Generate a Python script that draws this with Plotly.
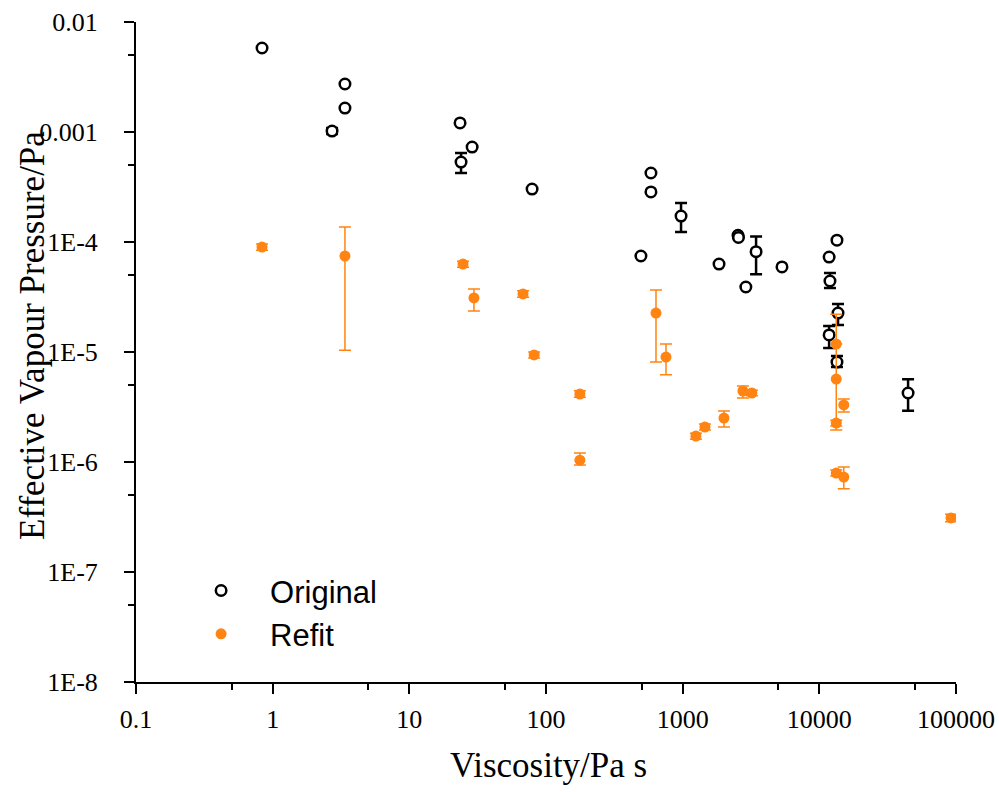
import plotly.graph_objects as go

# ---- Original (black open circles) ----
orig_x = [0.836, 3.38, 3.38, 2.72, 23.5, 28.8, 23.9, 79.1, 586, 586, 973, 495,
          2540, 2560, 1845, 2900, 3445, 5330, 13460, 11790, 11960, 13700, 11790,
          13460, 44600]
orig_y = [5.8e-3, 2.73e-3, 1.65e-3, 1.02e-3, 1.21e-3, 7.3e-4, 5.33e-4, 3.03e-4,
          4.24e-4, 2.85e-4, 1.72e-4, 7.46e-5, 1.15e-4, 1.10e-4, 6.3e-5, 3.9e-5,
          8.17e-5, 5.93e-5, 1.04e-4, 7.3e-5, 4.42e-5, 2.26e-5, 1.43e-5, 8.1e-6,
          4.24e-6]
orig_hi = [None, None, None, 1.09e-3, None, None, 6.44e-4, None, None, None,
           2.26e-4, None, None, None, None, None, 1.12e-4, None, None, None,
           5.23e-5, 2.73e-5, 1.72e-5, 9.2e-6, 5.65e-6]
orig_lo = [None, None, None, 0.96e-3, None, None, 4.24e-4, None, None, None,
           1.23e-4, None, None, None, None, None, 5.08e-5, None, None, None,
           3.82e-5, 1.76e-5, 1.09e-5, 7.3e-6, 2.93e-6]

# ---- Refit (orange filled circles) ----
refit_x = [0.836, 3.38, 24.7, 29.7, 67.9, 81.9, 177, 177, 638, 755, 1250, 1455,
           2005, 2760, 3210, 13300, 13300, 15100, 13300, 13300, 15100, 91900]
refit_y = [9.0e-5, 7.46e-5, 6.3e-5, 3.1e-5, 3.37e-5, 9.4e-6, 4.15e-6, 1.04e-6,
           2.26e-5, 9.0e-6, 1.72e-6, 2.08e-6, 2.51e-6, 4.42e-6, 4.24e-6, 1.18e-5,
           5.68e-6, 3.3e-6, 2.26e-6, 7.94e-7, 7.3e-7, 3.1e-7]
refit_hi = [9.6e-5, 1.37e-4, 6.7e-5, 3.74e-5, 3.6e-5, 1.0e-5, 4.45e-6, 1.21e-6,
            3.66e-5, 1.18e-5, 1.83e-6, 2.22e-6, 2.91e-6, 4.9e-6, 4.5e-6, None,
            2.2e-5, 3.74e-6, 2.4e-6, 8.45e-7, 9.0e-7, 3.35e-7]
refit_lo = [8.4e-5, 1.04e-5, 5.9e-5, 2.36e-5, 3.15e-5, 8.8e-6, 3.88e-6, 9.4e-7,
            8.1e-6, 6.2e-6, 1.61e-6, 1.95e-6, 2.08e-6, 3.82e-6, 4.0e-6, None,
            1.95e-6, 2.85e-6, 2.12e-6, 7.45e-7, 5.7e-7, 2.87e-7]

x_tickvals = [0.1, 1, 10, 100, 1000, 10000, 100000]
x_ticktext = ["0.1", "1", "10", "100", "1000", "10000", "100000"]
y_tickvals = [1e-8, 1e-7, 1e-6, 1e-5, 1e-4, 1e-3, 1e-2]
y_ticktext = ["1E-8", "1E-7", "1E-6", "1E-5", "1E-4", "0.001", "0.01"]
x_minor = [0.5, 5, 50, 500, 5000, 50000]
y_minor = [5e-8, 5e-7, 5e-6, 5e-5, 5e-4, 5e-3]

x_title = "Viscosity/Pa s"
y_title = "Effective Vapour Pressure/Pa"


def errs(y, hi, lo):
    plus = [None if h is None else h - v for v, h in zip(y, hi)]
    minus = [None if l is None else v - l for v, l in zip(y, lo)]
    return plus, minus


op, om = errs(orig_y, orig_hi, orig_lo)
rp, rm = errs(refit_y, refit_hi, refit_lo)

ORANGE = "#FF8412"

fig = go.Figure()
fig.add_trace(go.Scatter(
    x=orig_x, y=orig_y, mode="markers", name="Original",
    marker=dict(symbol="circle", size=10.5, color="white",
                line=dict(color="black", width=2.5)),
    error_y=dict(type="data", symmetric=False, array=op, arrayminus=om,
                 color="black", thickness=2.5, width=6),
))
fig.add_trace(go.Scatter(
    x=refit_x, y=refit_y, mode="markers", name="Refit",
    marker=dict(symbol="circle", size=11, color=ORANGE, line=dict(width=0)),
    error_y=dict(type="data", symmetric=False, array=rp, arrayminus=rm,
                 color=ORANGE, thickness=1.5, width=6),
))

tickfont = dict(family="Liberation Serif", size=26, color="black")
titlefont = dict(family="Liberation Serif", size=35, color="black")

fig.update_layout(
    width=999, height=792,
    margin=dict(l=136, r=43, t=22, b=110),
    paper_bgcolor="white", plot_bgcolor="white",
    showlegend=True,
    legend=dict(x=0.044, y=0.179, xanchor="left", yanchor="top",
                font=dict(family="Liberation Sans", size=31, color="black"),
                bgcolor="rgba(0,0,0,0)", itemwidth=88, tracegroupgap=0),
    xaxis=dict(type="log", range=[-1, 5.0], tickvals=x_tickvals, ticktext=x_ticktext,
               showline=True, linecolor="black", linewidth=2, mirror=False,
               ticks="outside", ticklen=10, tickwidth=2, tickcolor="black",
               showgrid=False, zeroline=False, tickfont=tickfont,
               ticklabelstandoff=3, automargin=False,
               minor=dict(tickvals=x_minor, ticks="outside", ticklen=6,
                          tickwidth=2, tickcolor="black", showgrid=False)),
    yaxis=dict(type="log", range=[-8, -2], tickvals=y_tickvals, ticktext=y_ticktext,
               showline=True, linecolor="black", linewidth=2, mirror=False,
               ticks="outside", ticklen=10, tickwidth=2, tickcolor="black",
               showgrid=False, zeroline=False, tickfont=tickfont,
               ticklabelstandoff=21, automargin=False,
               minor=dict(tickvals=y_minor, ticks="outside", ticklen=6,
                          tickwidth=2, tickcolor="black", showgrid=False)),
    annotations=[
        dict(text=x_title, xref="paper", yref="paper", x=(548 - 136) / 820, y=0,
             yshift=-83, xanchor="center", yanchor="middle", showarrow=False,
             font=titlefont),
        dict(text=y_title, xref="paper", yref="paper", x=0, y=(682 - 336) / 660,
             xshift=-103, xanchor="center", yanchor="middle", showarrow=False,
             textangle=-90, font=titlefont),
    ],
)

fig.write_html("out.html",
               config={"displayModeBar": False},
               post_script="document.body.style.margin='0';"
                           "document.body.style.overflow='hidden';")
